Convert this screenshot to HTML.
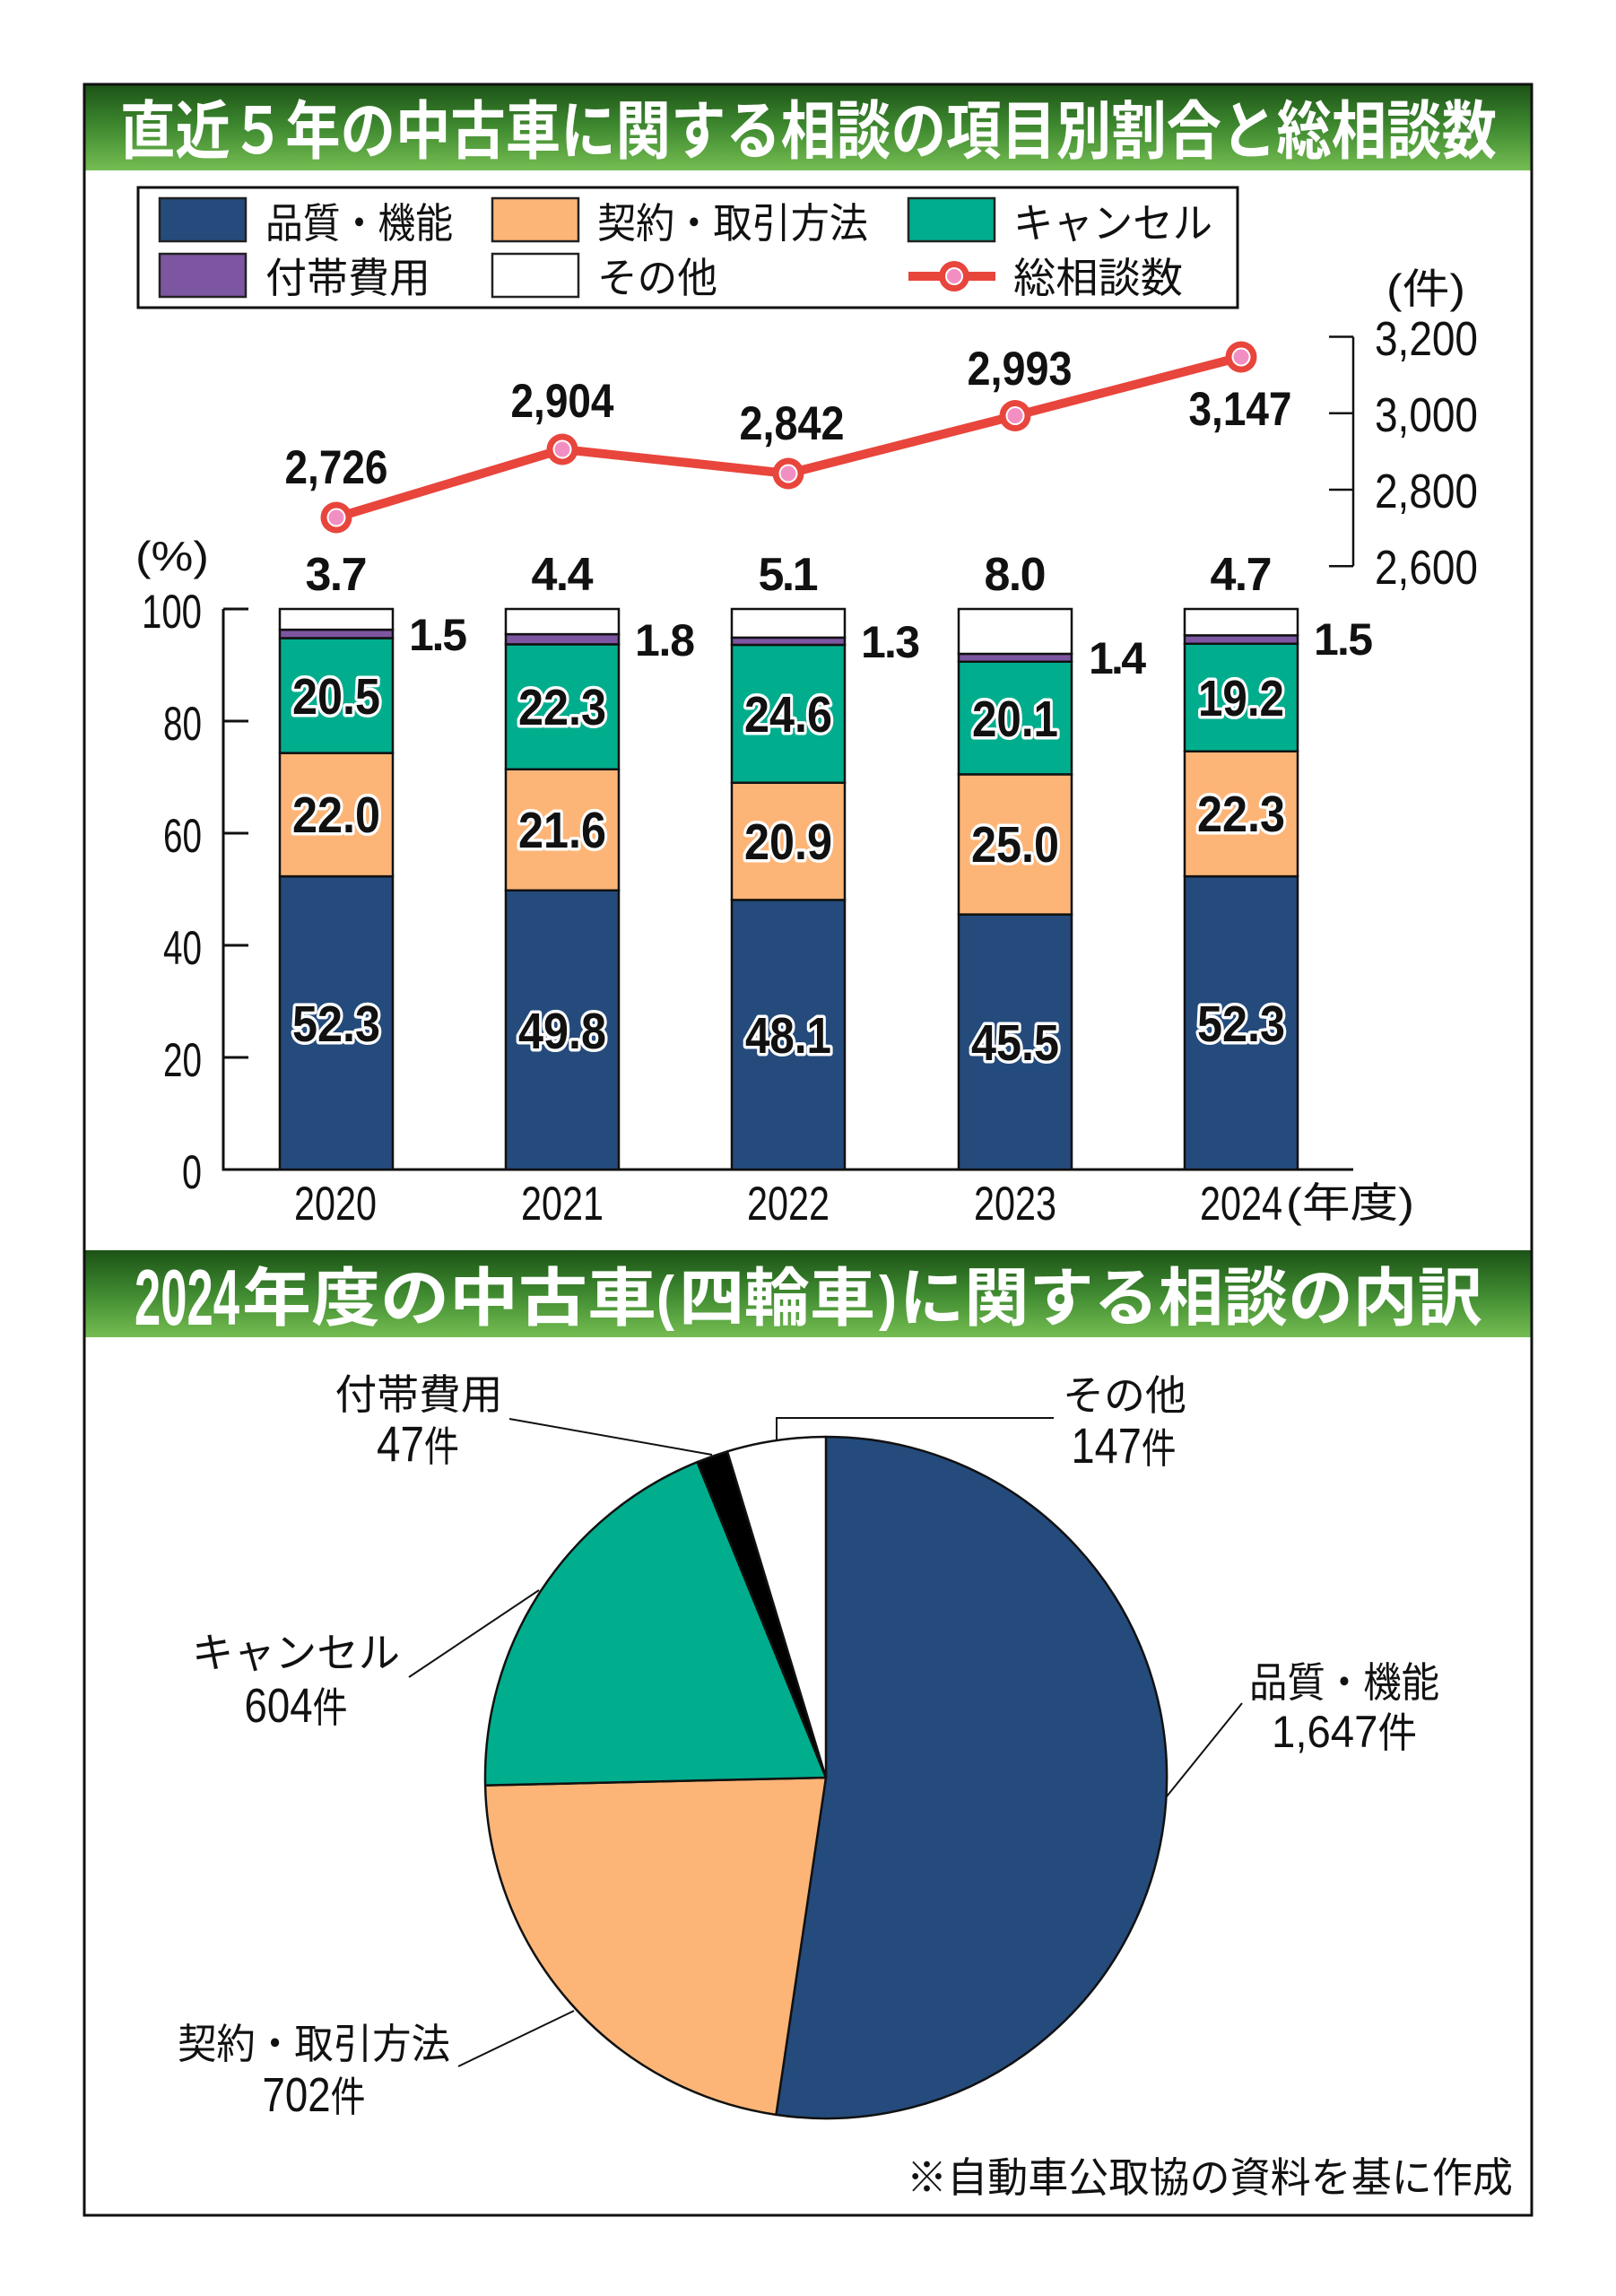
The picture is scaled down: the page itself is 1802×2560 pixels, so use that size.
<!DOCTYPE html>
<html lang="ja">
<head>
<meta charset="utf-8">
<style>
  html,body{margin:0;padding:0;background:#fff;}
  svg{display:block;}
  .jp{font-family:"Liberation Sans","Noto Sans CJK JP",sans-serif;}
  .num{font-family:"Liberation Sans",sans-serif;}
</style>
</head>
<body>
<svg xmlns="http://www.w3.org/2000/svg" width="1802" height="2560" viewBox="0 0 1802 2560">
  <defs>
    <linearGradient id="gbar" x1="0" y1="0" x2="0" y2="1">
      <stop offset="0" stop-color="#1c5317"/>
      <stop offset="0.5" stop-color="#3f8a30"/>
      <stop offset="1" stop-color="#75bd52"/>
    </linearGradient>
  </defs>
  <rect x="0" y="0" width="1802" height="2560" fill="#fff"/>

  <!-- Title bar 1 -->
  <rect x="94" y="94" width="1614" height="96" fill="url(#gbar)"/>
  <text class="jp" x="134" y="171" font-size="71" font-weight="bold" fill="#fff" textLength="1535" lengthAdjust="spacingAndGlyphs">直近５年の中古車に関する相談の項目別割合と総相談数</text>

  <!-- Legend -->
  <rect x="154" y="209" width="1226" height="134" fill="#fff" stroke="#111" stroke-width="3"/>
  <rect x="178" y="221" width="96" height="48" fill="#244b7c" stroke="#222" stroke-width="2.5"/>
  <rect x="178" y="283" width="96" height="48" fill="#7d56a1" stroke="#222" stroke-width="2.5"/>
  <rect x="549" y="221" width="96" height="48" fill="#fdb577" stroke="#222" stroke-width="2.5"/>
  <rect x="549" y="283" width="96" height="48" fill="#fff" stroke="#222" stroke-width="2.5"/>
  <rect x="1013" y="221" width="96" height="48" fill="#00ae8e" stroke="#222" stroke-width="2.5"/>
  <line x1="1013" y1="308" x2="1110" y2="308" stroke="#e8453c" stroke-width="10"/>
  <circle cx="1064" cy="308" r="17" fill="#e8453c"/>
  <circle cx="1064" cy="308" r="10" fill="#fff"/>
  <circle cx="1064" cy="308" r="8" fill="#f28fc2"/>
  <g class="jp" font-size="46" fill="#111">
    <text x="296" y="265" textLength="209" lengthAdjust="spacingAndGlyphs">品質・機能</text>
    <text x="666" y="265" textLength="302" lengthAdjust="spacingAndGlyphs">契約・取引方法</text>
    <text x="1130" y="265" textLength="222" lengthAdjust="spacingAndGlyphs">キャンセル</text>
    <text x="296" y="326" textLength="184" lengthAdjust="spacingAndGlyphs">付帯費用</text>
    <text x="666" y="326" textLength="134" lengthAdjust="spacingAndGlyphs">その他</text>
    <text x="1130" y="326" textLength="189" lengthAdjust="spacingAndGlyphs">総相談数</text>
  </g>

  <!-- Right axis -->
  <text class="jp" x="1546" y="338" font-size="46" fill="#111" textLength="88" lengthAdjust="spacingAndGlyphs">(件)</text>
  <g stroke="#111" stroke-width="2.5" fill="none">
    <line x1="1509" y1="375.5" x2="1509" y2="631.25"/>
    <line x1="1482" y1="375.5" x2="1509" y2="375.5"/>
    <line x1="1482" y1="460.75" x2="1509" y2="460.75"/>
    <line x1="1482" y1="546" x2="1509" y2="546"/>
    <line x1="1482" y1="631.25" x2="1509" y2="631.25"/>
  </g>
  <g class="num" font-size="54" fill="#111">
    <text x="1533" y="396" textLength="115" lengthAdjust="spacingAndGlyphs">3,200</text>
    <text x="1533" y="481" textLength="115" lengthAdjust="spacingAndGlyphs">3,000</text>
    <text x="1533" y="566" textLength="115" lengthAdjust="spacingAndGlyphs">2,800</text>
    <text x="1533" y="651" textLength="115" lengthAdjust="spacingAndGlyphs">2,600</text>
  </g>

  <!-- Line series -->
  <polyline points="375,577 627,501 879,528 1132,463.5 1384,398" fill="none" stroke="#e8453c" stroke-width="10" stroke-linejoin="round"/>
  <g>
    <circle cx="375" cy="577" r="17.5" fill="#e8453c"/><circle cx="375" cy="577" r="10.5" fill="#fff"/><circle cx="375" cy="577" r="8.5" fill="#f28fc2"/>
    <circle cx="627" cy="501" r="17.5" fill="#e8453c"/><circle cx="627" cy="501" r="10.5" fill="#fff"/><circle cx="627" cy="501" r="8.5" fill="#f28fc2"/>
    <circle cx="879" cy="528" r="17.5" fill="#e8453c"/><circle cx="879" cy="528" r="10.5" fill="#fff"/><circle cx="879" cy="528" r="8.5" fill="#f28fc2"/>
    <circle cx="1132" cy="463.5" r="17.5" fill="#e8453c"/><circle cx="1132" cy="463.5" r="10.5" fill="#fff"/><circle cx="1132" cy="463.5" r="8.5" fill="#f28fc2"/>
    <circle cx="1384" cy="398" r="17.5" fill="#e8453c"/><circle cx="1384" cy="398" r="10.5" fill="#fff"/><circle cx="1384" cy="398" r="8.5" fill="#f28fc2"/>
  </g>
  <g class="num" font-size="53" font-weight="bold" fill="#111" text-anchor="middle">
    <text x="375" y="539" textLength="115" lengthAdjust="spacingAndGlyphs">2,726</text>
    <text x="627" y="465" textLength="115" lengthAdjust="spacingAndGlyphs">2,904</text>
    <text x="883" y="490" textLength="117" lengthAdjust="spacingAndGlyphs">2,842</text>
    <text x="1137" y="429" textLength="117" lengthAdjust="spacingAndGlyphs">2,993</text>
    <text x="1383" y="474" textLength="115" lengthAdjust="spacingAndGlyphs">3,147</text>
  </g>

  <!-- Bar chart axes -->
  <text class="jp" x="151" y="636" font-size="46" fill="#111" textLength="82" lengthAdjust="spacingAndGlyphs">(%)</text>
  <g stroke="#111" stroke-width="3" fill="none">
    <line x1="249" y1="679" x2="249" y2="1304"/>
    <line x1="247.5" y1="1304" x2="1509" y2="1304"/>
    <line x1="249" y1="679" x2="277" y2="679"/>
    <line x1="249" y1="804" x2="277" y2="804"/>
    <line x1="249" y1="929" x2="277" y2="929"/>
    <line x1="249" y1="1054" x2="277" y2="1054"/>
    <line x1="249" y1="1179" x2="277" y2="1179"/>
  </g>
  <g class="num" font-size="53" fill="#111" text-anchor="end">
    <text x="225" y="700" textLength="67" lengthAdjust="spacingAndGlyphs">100</text>
    <text x="225" y="825" textLength="43" lengthAdjust="spacingAndGlyphs">80</text>
    <text x="225" y="950" textLength="43" lengthAdjust="spacingAndGlyphs">60</text>
    <text x="225" y="1075" textLength="43" lengthAdjust="spacingAndGlyphs">40</text>
    <text x="225" y="1200" textLength="43" lengthAdjust="spacingAndGlyphs">20</text>
    <text x="225" y="1325" textLength="22" lengthAdjust="spacingAndGlyphs">0</text>
  </g>

  <!-- Bars -->
  <g stroke="#111" stroke-width="2.5">
    <!-- 2020 -->
    <rect x="312" y="977.1" width="126" height="326.9" fill="#244b7c"/>
    <rect x="312" y="839.6" width="126" height="137.5" fill="#fdb577"/>
    <rect x="312" y="711.5" width="126" height="128.1" fill="#00ae8e"/>
    <rect x="312" y="702.1" width="126" height="9.4" fill="#7d56a1"/>
    <rect x="312" y="679" width="126" height="23.1" fill="#fff"/>
    <!-- 2021 -->
    <rect x="564" y="992.75" width="126" height="311.25" fill="#244b7c"/>
    <rect x="564" y="857.75" width="126" height="135" fill="#fdb577"/>
    <rect x="564" y="718.4" width="126" height="139.35" fill="#00ae8e"/>
    <rect x="564" y="707.1" width="126" height="11.3" fill="#7d56a1"/>
    <rect x="564" y="679" width="126" height="28.1" fill="#fff"/>
    <!-- 2022 -->
    <rect x="816" y="1003.4" width="126" height="300.6" fill="#244b7c"/>
    <rect x="816" y="872.75" width="126" height="130.65" fill="#fdb577"/>
    <rect x="816" y="719" width="126" height="153.75" fill="#00ae8e"/>
    <rect x="816" y="710.9" width="126" height="8.1" fill="#7d56a1"/>
    <rect x="816" y="679" width="126" height="31.9" fill="#fff"/>
    <!-- 2023 -->
    <rect x="1069" y="1019.6" width="126" height="284.4" fill="#244b7c"/>
    <rect x="1069" y="863.4" width="126" height="156.2" fill="#fdb577"/>
    <rect x="1069" y="737.75" width="126" height="125.65" fill="#00ae8e"/>
    <rect x="1069" y="729" width="126" height="8.75" fill="#7d56a1"/>
    <rect x="1069" y="679" width="126" height="50" fill="#fff"/>
    <!-- 2024 -->
    <rect x="1321" y="977.1" width="126" height="326.9" fill="#244b7c"/>
    <rect x="1321" y="837.75" width="126" height="139.35" fill="#fdb577"/>
    <rect x="1321" y="717.75" width="126" height="120" fill="#00ae8e"/>
    <rect x="1321" y="708.4" width="126" height="9.35" fill="#7d56a1"/>
    <rect x="1321" y="679" width="126" height="29.4" fill="#fff"/>
  </g>

  <!-- Inner bar labels -->
  <g class="num" font-size="57" font-weight="bold" fill="#111" stroke="#fff" stroke-width="7" stroke-linejoin="round" paint-order="stroke" text-anchor="middle">
    <text x="375" y="1161" textLength="98" lengthAdjust="spacingAndGlyphs">52.3</text>
    <text x="375" y="928" textLength="98" lengthAdjust="spacingAndGlyphs">22.0</text>
    <text x="375" y="796" textLength="98" lengthAdjust="spacingAndGlyphs">20.5</text>
    <text x="627" y="1169" textLength="98" lengthAdjust="spacingAndGlyphs">49.8</text>
    <text x="627" y="945" textLength="98" lengthAdjust="spacingAndGlyphs">21.6</text>
    <text x="627" y="808" textLength="98" lengthAdjust="spacingAndGlyphs">22.3</text>
    <text x="879" y="1174" textLength="96" lengthAdjust="spacingAndGlyphs">48.1</text>
    <text x="879" y="958" textLength="98" lengthAdjust="spacingAndGlyphs">20.9</text>
    <text x="879" y="816" textLength="98" lengthAdjust="spacingAndGlyphs">24.6</text>
    <text x="1132" y="1182" textLength="98" lengthAdjust="spacingAndGlyphs">45.5</text>
    <text x="1132" y="961" textLength="98" lengthAdjust="spacingAndGlyphs">25.0</text>
    <text x="1132" y="821" textLength="96" lengthAdjust="spacingAndGlyphs">20.1</text>
    <text x="1384" y="1161" textLength="98" lengthAdjust="spacingAndGlyphs">52.3</text>
    <text x="1384" y="927" textLength="98" lengthAdjust="spacingAndGlyphs">22.3</text>
    <text x="1384" y="798" textLength="96" lengthAdjust="spacingAndGlyphs">19.2</text>
  </g>

  <!-- Top labels (その他) -->
  <g class="num" font-size="52" font-weight="bold" fill="#111" text-anchor="middle">
    <text x="375" y="658" textLength="69">3.7</text>
    <text x="627" y="658" textLength="69">4.4</text>
    <text x="879" y="658" textLength="67">5.1</text>
    <text x="1132" y="658" textLength="69">8.0</text>
    <text x="1384" y="658" textLength="69">4.7</text>
  </g>
  <!-- Side labels (付帯費用) -->
  <g class="num" font-size="50" font-weight="bold" fill="#111">
    <text x="456" y="725" textLength="65">1.5</text>
    <text x="708" y="731" textLength="67">1.8</text>
    <text x="960" y="733" textLength="66">1.3</text>
    <text x="1214" y="751" textLength="64">1.4</text>
    <text x="1465" y="730" textLength="66">1.5</text>
  </g>

  <!-- Year labels -->
  <g class="num" font-size="53" fill="#111" text-anchor="middle">
    <text x="374" y="1360" textLength="92" lengthAdjust="spacingAndGlyphs">2020</text>
    <text x="627" y="1360" textLength="92" lengthAdjust="spacingAndGlyphs">2021</text>
    <text x="879" y="1360" textLength="92" lengthAdjust="spacingAndGlyphs">2022</text>
    <text x="1132" y="1360" textLength="92" lengthAdjust="spacingAndGlyphs">2023</text>
    <text x="1384" y="1360" textLength="92" lengthAdjust="spacingAndGlyphs">2024</text>
  </g>
  <text class="jp" x="1434" y="1357" font-size="46" fill="#111" textLength="143" lengthAdjust="spacingAndGlyphs">(年度)</text>

  <!-- Title bar 2 -->
  <rect x="94" y="1394" width="1614" height="97" fill="url(#gbar)"/>
  <g fill="#fff" font-weight="bold">
    <text class="num" x="150" y="1477" font-size="88" textLength="117" lengthAdjust="spacingAndGlyphs">2024</text>
    <text class="jp" x="270" y="1472" font-size="71" textLength="462" lengthAdjust="spacingAndGlyphs">年度の中古車</text>
    <text class="num" x="732" y="1470" font-size="68" textLength="20" lengthAdjust="spacingAndGlyphs">(</text>
    <text class="jp" x="757" y="1472" font-size="71" textLength="219" lengthAdjust="spacingAndGlyphs">四輪車</text>
    <text class="num" x="980" y="1470" font-size="68" textLength="20" lengthAdjust="spacingAndGlyphs">)</text>
    <text class="jp" x="1003" y="1472" font-size="71" textLength="650" lengthAdjust="spacingAndGlyphs">に関する相談の内訳</text>
  </g>

  <!-- Pie -->
  <g stroke="#111" stroke-width="2.5" stroke-linejoin="round">
    <path d="M921,1982 L921,1602 A380,380 0 1 1 865.42,2357.9 Z" fill="#244b7c"/>
    <path d="M921,1982 L865.42,2357.9 A380,380 0 0 1 541.1,1990.6 Z" fill="#fdb577"/>
    <path d="M921,1982 L541.1,1990.6 A380,380 0 0 1 777.5,1630.1 Z" fill="#00ae8e"/>
    <path d="M921,1982 L777.5,1630.1 A380,380 0 0 1 811.05,1618.3 Z" fill="#000"/>
    <path d="M921,1982 L811.05,1618.3 A380,380 0 0 1 921,1602 Z" fill="#fff"/>
  </g>

  <!-- Leader lines -->
  <g stroke="#111" stroke-width="2" fill="none">
    <line x1="568" y1="1582" x2="794" y2="1622"/>
    <polyline points="866,1605 866,1581 1175,1581"/>
    <line x1="456" y1="1870" x2="601" y2="1773"/>
    <line x1="511" y1="2304" x2="640" y2="2242"/>
    <line x1="1301" y1="2003" x2="1385" y2="1899"/>
  </g>

  <!-- Pie labels -->
  <g class="jp" font-size="46" fill="#111" text-anchor="middle">
    <text x="467" y="1571" textLength="187" lengthAdjust="spacingAndGlyphs">付帯費用</text>
    <text x="466" y="1629" textLength="92" lengthAdjust="spacingAndGlyphs"><tspan font-size="56">47</tspan>件</text>
    <text x="330" y="1859" textLength="232" lengthAdjust="spacingAndGlyphs">キャンセル</text>
    <text x="330" y="1920" textLength="115" lengthAdjust="spacingAndGlyphs"><tspan font-size="54">604</tspan>件</text>
    <text x="350" y="2295" textLength="304" lengthAdjust="spacingAndGlyphs">契約・取引方法</text>
    <text x="350" y="2354" textLength="115" lengthAdjust="spacingAndGlyphs"><tspan font-size="54">702</tspan>件</text>
    <text x="1254" y="1572" textLength="138" lengthAdjust="spacingAndGlyphs">その他</text>
    <text x="1253" y="1631" textLength="117" lengthAdjust="spacingAndGlyphs"><tspan font-size="56">147</tspan>件</text>
    <text x="1499" y="1892" textLength="212" lengthAdjust="spacingAndGlyphs">品質・機能</text>
    <text x="1499" y="1948" textLength="162" lengthAdjust="spacingAndGlyphs"><tspan font-size="50">1,647</tspan>件</text>
  </g>

  <!-- Footer -->
  <text class="jp" x="1011" y="2444" font-size="46" fill="#111" textLength="676" lengthAdjust="spacingAndGlyphs">※自動車公取協の資料を基に作成</text>

  <!-- Frame -->
  <rect x="94" y="94" width="1614" height="2376" fill="none" stroke="#111" stroke-width="3"/>
</svg>
</body>
</html>
